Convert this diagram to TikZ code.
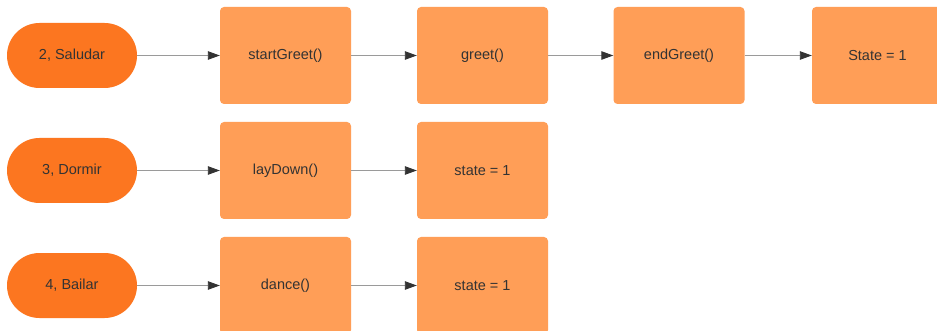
\documentclass[tikz,border=0pt]{standalone}
\usepackage{fontspec}
\setmainfont{Liberation Sans}
\usetikzlibrary{arrows.meta}
\definecolor{termfill}{HTML}{FC7620}
\definecolor{stepfill}{HTML}{FF9E57}
\definecolor{txt}{HTML}{333333}
\definecolor{linegray}{HTML}{9A9A9A}
\definecolor{tipgray}{HTML}{333333}
\begin{document}
\begin{tikzpicture}[x=1pt,y=-1pt,
  terminal/.style={fill=termfill,rounded corners=32.5pt,minimum width=130pt,minimum height=65pt,
    inner sep=0pt,text=txt,font=\fontsize{14.5}{17}\selectfont},
  stepbox/.style={fill=stepfill,rounded corners=4pt,minimum width=131pt,minimum height=97pt,
    inner sep=0pt,text=txt,font=\fontsize{14.5}{17}\selectfont},
  flow/.style={draw=linegray,line width=0.9pt,
    -{Triangle[length=12pt,width=8.5pt,color=tipgray]}}]
\useasboundingbox[fill=white] (0,0) rectangle (937,331);

% row 1: greeting
\node[terminal] (t2) at (72,55.5) {2, Saludar};
\node[stepbox] (s1) at (285.5,55.5) {startGreet()};
\node[stepbox] (s2) at (482.5,55.5) {greet()};
\node[stepbox] (s3) at (679,55.5) {endGreet()};
\node[stepbox] (s4) at (877.5,55.5) {State = 1};
\draw[flow] (t2) -- (s1);
\draw[flow] (s1) -- (s2);
\draw[flow] (s2) -- (s3);
\draw[flow] (s3) -- (s4);

% row 2: sleeping
\node[terminal] (t3) at (72,170.5) {3, Dormir};
\node[stepbox] (d1) at (285.5,170.5) {layDown()};
\node[stepbox] (d2) at (482.5,170.5) {state = 1};
\draw[flow] (t3) -- (d1);
\draw[flow] (d1) -- (d2);

% row 3: dancing
\node[terminal] (t4) at (72,285.5) {4, Bailar};
\node[stepbox] (b1) at (285.5,285.5) {dance()};
\node[stepbox] (b2) at (482.5,285.5) {state = 1};
\draw[flow] (t4) -- (b1);
\draw[flow] (b1) -- (b2);
\end{tikzpicture}
\end{document}
